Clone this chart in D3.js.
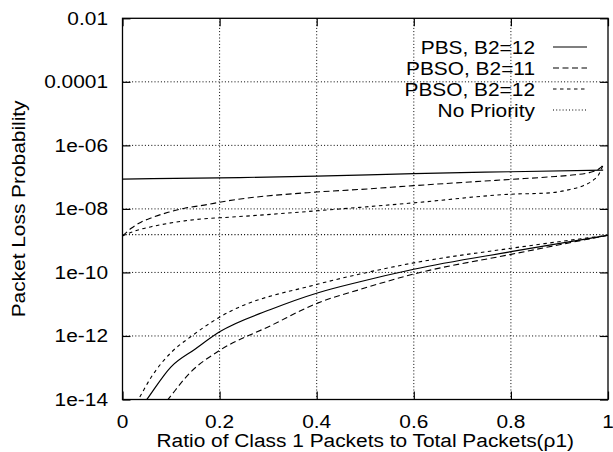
<!DOCTYPE html>
<html>
<head>
<meta charset="utf-8">
<script src="https://cdn.jsdelivr.net/npm/d3@7"></script>
<style>
  html, body { margin: 0; padding: 0; background: #fff; }
  svg text { font-family: "Liberation Sans", Arial, Helvetica, sans-serif; font-size: 18px; fill: #000; }
</style>
</head>
<body>
<svg id="chart" width="613" height="452"></svg>
<script>
// ---- data ----
const xTicks = [0, 0.2, 0.4, 0.6, 0.8, 1];
const xTickLabels = ["0", "0.2", "0.4", "0.6", "0.8", "1"];
const yTicks = [1e-2, 1e-4, 1e-6, 1e-8, 1e-10, 1e-12, 1e-14];
const yTickLabels = ["0.01", "0.0001", "1e-06", "1e-08", "1e-10", "1e-12", "1e-14"];

const legendLabels = ["PBS, B2=12", "PBSO, B2=11", "PBSO, B2=12", "No Priority"];

// upper group
const pbsUpperRho = [0, 0.2, 0.4, 0.6, 0.8, 0.99];
const pbsUpperP   = [8.7e-8, 9.5e-8, 1.07e-7, 1.29e-7, 1.48e-7, 1.66e-7];

const pbso11UpperRho = [0, 0.018, 0.039, 0.059, 0.094, 0.128, 0.176, 0.2, 0.4, 0.489, 0.6, 0.8, 0.881, 0.922, 0.963, 0.983, 0.99];
const pbso11UpperP   = [1.41e-9, 2.45e-9, 3.9e-9, 5.2e-9, 7.8e-9, 1.05e-8, 1.38e-8, 1.62e-8, 3.4e-8, 4.1e-8, 5.4e-8, 8.5e-8, 1.02e-7, 1.15e-7, 1.41e-7, 1.9e-7, 2.4e-7];

const pbso12UpperRho = [0, 0.025, 0.059, 0.094, 0.128, 0.176, 0.2, 0.4, 0.489, 0.6, 0.8, 0.881, 0.922, 0.949, 0.97, 0.98, 0.99];
const pbso12UpperP   = [1.41e-9, 2.0e-9, 2.75e-9, 3.5e-9, 4.2e-9, 5.0e-9, 5.25e-9, 8.7e-9, 1.12e-8, 1.55e-8, 2.9e-8, 3.2e-8, 4.1e-8, 5.4e-8, 8.1e-8, 1.15e-7, 2.4e-7];

const noPriorityRho = [0, 1];
const noPriorityP   = [1.55e-9, 1.55e-9];

// lower group
const pbsLowerRho = [0.026, 0.049, 0.1, 0.15, 0.2, 0.305, 0.403, 0.489, 0.6, 0.8, 1.0];
const pbsLowerP   = [3.2e-15, 9.5e-15, 1.07e-13, 3.9e-13, 1.35e-12, 6.8e-12, 2.3e-11, 5.1e-11, 1.26e-10, 4.5e-10, 1.48e-9];

const pbso11LowerRho = [0.067, 0.092, 0.14, 0.2, 0.305, 0.403, 0.489, 0.6, 0.8, 1.0];
const pbso11LowerP   = [3.2e-15, 9.3e-15, 7.2e-14, 3.5e-13, 2.1e-12, 1.1e-11, 2.9e-11, 8.9e-11, 3.7e-10, 1.48e-9];

const pbso12LowerRho = [0.014, 0.032, 0.059, 0.1, 0.139, 0.2, 0.403, 0.489, 0.6, 0.8, 1.0];
const pbso12LowerP   = [3.2e-15, 9.5e-15, 5.0e-14, 3.0e-13, 9.1e-13, 3.9e-12, 4.3e-11, 8.9e-11, 2.0e-10, 5.75e-10, 1.48e-9];

// ---- layout ----
const svg = d3.select("#chart");
const L = 122.5, R = 608, T = 18.3, B = 399.5;
const SX = 1.16; // horizontal stretch of the reference font

const x = d3.scaleLinear().domain([0, 1]).range([L, R]);
const y = d3.scaleLog().domain([1e-14, 1e-2]).range([B, T]);

function txt(px, py, s, anchor, rot) {
  svg.append("text")
    .attr("transform", `translate(${px},${py}) rotate(${rot || 0}) scale(${SX},1)`)
    .attr("text-anchor", anchor)
    .text(s);
}

svg.append("defs").append("clipPath").attr("id", "clip")
  .append("rect").attr("x", L).attr("y", T).attr("width", R - L).attr("height", B - T);

// grid
const grid = svg.append("g").attr("stroke", "#000").attr("stroke-width", 1)
  .attr("stroke-dasharray", "1,2.2").attr("fill", "none");
xTicks.slice(1, -1).forEach(v => {
  grid.append("line").attr("x1", x(v)).attr("x2", x(v)).attr("y1", T).attr("y2", B);
});
yTicks.slice(1, -1).forEach(v => {
  grid.append("line").attr("x1", L).attr("x2", R).attr("y1", y(v)).attr("y2", y(v));
});

// axes via d3 axis generators (inward ticks, mirrored)
const tickLen = 8;
function styleAxis(g) {
  g.select(".domain").remove();
  g.selectAll("line").attr("stroke", "#000").attr("stroke-width", 1.2);
  g.selectAll("text").remove();
}
svg.append("g").attr("transform", `translate(0,${B})`)
  .call(d3.axisTop(x).tickValues(xTicks).tickSize(tickLen)).call(styleAxis);
svg.append("g").attr("transform", `translate(0,${T})`)
  .call(d3.axisBottom(x).tickValues(xTicks).tickSize(tickLen)).call(styleAxis);
svg.append("g").attr("transform", `translate(${L},0)`)
  .call(d3.axisRight(y).tickValues(yTicks).tickSize(tickLen)).call(styleAxis);
svg.append("g").attr("transform", `translate(${R},0)`)
  .call(d3.axisLeft(y).tickValues(yTicks).tickSize(tickLen)).call(styleAxis);

// tick labels
xTicks.forEach((v, i) => txt(x(v), 428, xTickLabels[i], "middle"));
yTicks.forEach((v, i) => txt(108, y(v) + 6.5, yTickLabels[i], "end"));

// axis titles
txt((L + R) / 2, 447, "Ratio of Class 1 Packets to Total Packets(\u03c11)", "middle");
txt(25, (T + B) / 2, "Packet Loss Probability", "middle", -90);

// series
const styles = [
  { dash: null, w: 1.2 },
  { dash: "6,3.5", w: 1.1 },
  { dash: "3.5,3.5", w: 1.1 },
  { dash: "1,2.2", w: 1.1 }
];
const series = [
  { rho: pbsUpperRho, p: pbsUpperP, s: 0 },
  { rho: pbso11UpperRho, p: pbso11UpperP, s: 1 },
  { rho: pbso12UpperRho, p: pbso12UpperP, s: 2 },
  { rho: noPriorityRho, p: noPriorityP, s: 3 },
  { rho: pbsLowerRho, p: pbsLowerP, s: 0 },
  { rho: pbso11LowerRho, p: pbso11LowerP, s: 1 },
  { rho: pbso12LowerRho, p: pbso12LowerP, s: 2 }
];
const line = d3.line().x(d => x(d[0])).y(d => y(d[1])).curve(d3.curveMonotoneX);
const plot = svg.append("g").attr("clip-path", "url(#clip)");
series.forEach(sr => {
  const st = styles[sr.s];
  plot.append("path")
    .datum(sr.rho.map((r, i) => [r, sr.p[i]]))
    .attr("d", line)
    .attr("fill", "none")
    .attr("stroke", "#000")
    .attr("stroke-width", st.w)
    .attr("stroke-dasharray", st.dash);
});

// frame
svg.append("rect").attr("x", L).attr("y", T).attr("width", R - L).attr("height", B - T)
  .attr("fill", "none").attr("stroke", "#000").attr("stroke-width", 1.3);

// legend
const legY = [47, 68, 89, 110];
legendLabels.forEach((lab, i) => {
  txt(535, legY[i] + 6.5, lab, "end");
  svg.append("line").attr("x1", 553).attr("x2", 587).attr("y1", legY[i]).attr("y2", legY[i])
    .attr("stroke", "#000").attr("stroke-width", styles[i].w)
    .attr("stroke-dasharray", styles[i].dash);
});
</script>
</body>
</html>
